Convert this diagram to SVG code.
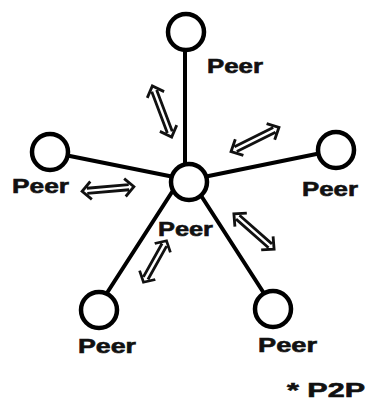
<svg xmlns="http://www.w3.org/2000/svg" width="366" height="401" viewBox="0 0 366 401">
<style>
.link{stroke:#000;stroke-width:4;fill:none;stroke-linecap:round}
.node{fill:#fff;stroke:#000;stroke-width:4.5}
.lbl{font-family:"Liberation Sans",Arial,sans-serif;font-weight:bold;font-size:20px;fill:#111;stroke:#111;stroke-width:0.6}
.arr{stroke:#111;stroke-width:2.8;fill:none;stroke-linejoin:miter}
</style>
<defs>
<g id="dbl">
<path class="arr" d="M-21,-2.6H21M-21,2.6H21M-17,-9L-26,0L-17,9M17,-9L26,0L17,9"/>
</g>
</defs>
<g id="connectors">
<line class="link" x1="185" y1="32" x2="185" y2="182"/>
<line class="link" x1="50" y1="152" x2="189" y2="180"/>
<line class="link" x1="336" y1="150" x2="189" y2="180"/>
<line class="link" x1="172" y1="192" x2="105" y2="296"/>
<line class="link" x1="200" y1="194" x2="267" y2="298"/>
<use href="#dbl" transform="translate(162,111.5) rotate(69.3) scale(1.05,1)"/>
<use href="#dbl" transform="translate(255,139.5) rotate(-26.6) scale(1.03,1)"/>
<use href="#dbl" transform="translate(108,189) rotate(-5)"/>
<use href="#dbl" transform="translate(155,261.5) rotate(-60.8) scale(0.91,1)"/>
<use href="#dbl" transform="translate(254,231.5) rotate(41.4) scale(1.03,1)"/>
</g>
<g id="peer-top"><circle class="node" cx="186" cy="32" r="18"/><text class="lbl" x="207" y="73" textLength="56" lengthAdjust="spacingAndGlyphs">Peer</text></g>
<g id="peer-center"><circle class="node" cx="189" cy="182" r="18"/><text class="lbl" x="158" y="236" textLength="55" lengthAdjust="spacingAndGlyphs">Peer</text></g>
<g id="peer-left"><circle class="node" cx="50" cy="152" r="18"/><text class="lbl" x="12" y="193" textLength="57" lengthAdjust="spacingAndGlyphs">Peer</text></g>
<g id="peer-right"><circle class="node" cx="336" cy="150" r="18"/><text class="lbl" x="302" y="196" textLength="56" lengthAdjust="spacingAndGlyphs">Peer</text></g>
<g id="peer-bottom-left"><circle class="node" cx="99" cy="310" r="18"/><text class="lbl" x="78" y="353" textLength="58" lengthAdjust="spacingAndGlyphs">Peer</text></g>
<g id="peer-bottom-right"><circle class="node" cx="273" cy="309" r="18"/><text class="lbl" x="258" y="352" textLength="59" lengthAdjust="spacingAndGlyphs">Peer</text></g>
<text class="lbl" x="287" y="397" textLength="78" lengthAdjust="spacingAndGlyphs">* P2P</text>
</svg>
